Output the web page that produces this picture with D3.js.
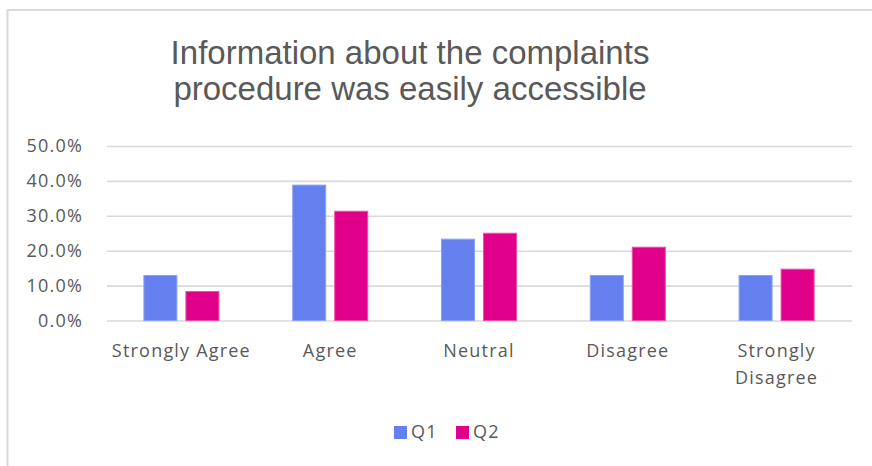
<!DOCTYPE html>
<html>
<head>
<meta charset="utf-8">
<script src="https://cdn.jsdelivr.net/npm/d3@7"></script>
<style>
  html, body { margin: 0; padding: 0; background: #fff; }
  svg { display: block; }
</style>
</head>
<body>
<svg id="chart" width="872" height="466"></svg>
<script>
// Survey responses: share of answers per category, for two quarters
const categories = ["Strongly Agree", "Agree", "Neutral", "Disagree", "Strongly Disagree"];
const seriesNames = ["Q1", "Q2"];
const q1Values = [0.129, 0.388, 0.233, 0.129, 0.129];
const q2Values = [0.083, 0.313, 0.250, 0.210, 0.147];
const yTicks = [0, 0.1, 0.2, 0.3, 0.4, 0.5];
const titleLines = ["Information about the complaints", "procedure was easily accessible"];

const colors = { Q1: "#647fee", Q2: "#e0008a" };
const strokes = { Q1: "#8ea2f3", Q2: "#ec4fa9" };

const rows = categories.map((c, i) => ({ category: c, Q1: q1Values[i], Q2: q2Values[i] }));

const svg = d3.select("#chart");
const textColor = "#595959";
const labelFont = "'Open Sans', sans-serif";
const labelSize = 18;
const labelSpacing = 1.2;

// chart frame
svg.append("rect")
  .attr("x", 7.5).attr("y", 10)
  .attr("width", 900).attr("height", 480)
  .attr("fill", "#fff")
  .attr("stroke", "#d9d9d9")
  .attr("stroke-width", 2);

// title
svg.append("text")
  .attr("x", 410).attr("y", 64)
  .attr("text-anchor", "middle")
  .attr("fill", textColor)
  .attr("font-family", "'Liberation Sans', Arial, sans-serif")
  .attr("font-size", 33)
  .selectAll("tspan")
  .data(titleLines)
  .join("tspan")
  .attr("x", 410)
  .attr("dy", (d, i) => i === 0 ? 0 : 36)
  .text(d => d);

const plot = { left: 107, right: 851, top: 146, bottom: 320.5 };

const x0 = d3.scaleBand()
  .domain(categories)
  .range([plot.left, plot.right])
  .paddingInner(0.489)
  .paddingOuter(0.2445);

const x1 = d3.scaleBand()
  .domain(seriesNames)
  .range([0, x0.bandwidth()])
  .paddingInner(8 / 42);

const y = d3.scaleLinear()
  .domain([0, 0.5])
  .range([plot.bottom, plot.top]);

// gridlines and y labels
const yAxis = d3.axisLeft(y)
  .tickValues(yTicks)
  .tickFormat(d3.format(".1%"))
  .tickSize(-(plot.right - plot.left + 1))
  .tickPadding(24);

const gy = svg.append("g")
  .attr("transform", `translate(${plot.left},0)`)
  .call(yAxis);
gy.select(".domain").remove();
gy.selectAll(".tick line")
  .attr("stroke", "#d9d9d9")
  .attr("stroke-width", 1.6);
gy.selectAll(".tick text")
  .attr("fill", textColor)
  .attr("font-family", labelFont)
  .attr("font-size", labelSize)
  .attr("letter-spacing", labelSpacing);

// bars
const groups = svg.append("g")
  .selectAll("g")
  .data(rows)
  .join("g")
  .attr("transform", d => `translate(${x0(d.category)},0)`);

groups.selectAll("rect")
  .data(d => seriesNames.map(s => ({ key: s, value: d[s] })))
  .join("rect")
  .attr("x", d => x1(d.key) + 0.5)
  .attr("y", d => y(d.value))
  .attr("width", x1.bandwidth() - 1)
  .attr("height", d => y(0) - y(d.value))
  .attr("fill", d => colors[d.key])
  .attr("stroke", d => strokes[d.key])
  .attr("stroke-width", 1);

// category labels (long ones wrap onto two lines)
const xAxis = d3.axisBottom(x0).tickSize(0).tickPadding(0);
const gx = svg.append("g")
  .attr("transform", `translate(0,${plot.bottom})`)
  .call(xAxis);
gx.select(".domain").remove();
gx.selectAll(".tick text")
  .attr("fill", textColor)
  .attr("font-family", labelFont)
  .attr("font-size", labelSize)
  .attr("letter-spacing", labelSpacing)
  .attr("dy", null)
  .attr("y", 36)
  .each(function (d) {
    const t = d3.select(this);
    if (d === "Strongly Disagree") {
      t.text(null);
      ["Strongly", "Disagree"].forEach((w, i) => {
        t.append("tspan").attr("x", 0).attr("dy", i === 0 ? 0 : 27).text(w);
      });
    }
  });

// legend
const legend = svg.append("g").attr("transform", "translate(394,426)");
const items = legend.selectAll("g")
  .data(seriesNames)
  .join("g")
  .attr("transform", (d, i) => `translate(${i * 62},0)`);
items.append("rect")
  .attr("width", 13).attr("height", 13)
  .attr("fill", d => colors[d]);
items.append("text")
  .attr("x", 17).attr("y", 12)
  .attr("fill", textColor)
  .attr("font-family", labelFont)
  .attr("font-size", labelSize)
  .attr("letter-spacing", labelSpacing)
  .text(d => d);
</script>
</body>
</html>
